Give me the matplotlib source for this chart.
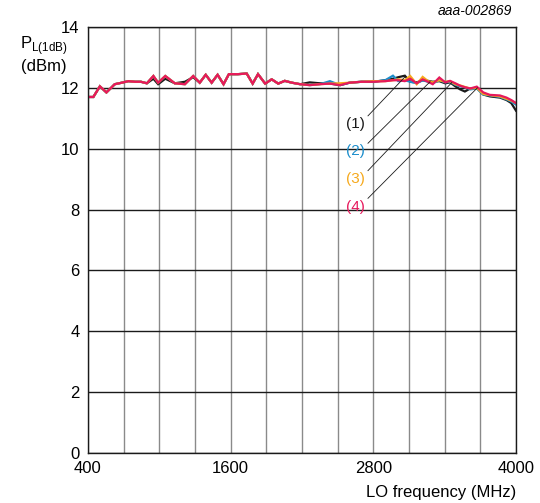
import matplotlib
matplotlib.use("Agg")
import matplotlib.pyplot as plt

plt.rcParams["font.family"] = ["Liberation Sans", "DejaVu Sans"]

# LO frequency (MHz)
freq = [400, 445, 500, 555, 625, 685, 740, 795, 845, 895, 950, 990, 1050, 1130,
        1215, 1285, 1340, 1390, 1440, 1490, 1540, 1585, 1660, 1735, 1785, 1830,
        1890, 1945, 2000, 2055, 2115, 2185, 2265, 2350, 2435, 2520,
        2600, 2700, 2800, 2900, 2965, 3010, 3065, 3110, 3165, 3215, 3260, 3300,
        3355, 3405, 3445, 3490, 3530, 3570, 3615, 3670, 3725, 3780, 3865, 3920,
        3960, 4000]

# PL(1dB) (dBm), curves (1)..(4)
pl_1 = [11.7, 11.7, 12.05, 11.85, 12.12, 12.17, 12.22, 12.2, 12.2, 12.15, 12.3, 12.12,
        12.3, 12.15, 12.2, 12.35, 12.17, 12.43, 12.17, 12.43, 12.12, 12.45, 12.45, 12.47,
        12.14, 12.45, 12.14, 12.28, 12.14, 12.23, 12.17, 12.12, 12.18, 12.15, 12.14, 12.09,
        12.17, 12.2, 12.2, 12.25, 12.3, 12.35, 12.4, 12.2, 12.18, 12.25, 12.23, 12.2,
        12.22, 12.15, 12.18, 12.05, 11.95, 11.88, 11.98, 12.0, 11.78, 11.72, 11.68, 11.6,
        11.5, 11.25]
pl_2 = [11.7, 11.7, 12.05, 11.85, 12.12, 12.17, 12.22, 12.2, 12.2, 12.15, 12.39, 12.17,
        12.39, 12.15, 12.12, 12.39, 12.17, 12.43, 12.17, 12.43, 12.12, 12.45, 12.45, 12.47,
        12.14, 12.45, 12.14, 12.28, 12.14, 12.23, 12.17, 12.12, 12.09, 12.12, 12.22, 12.09,
        12.17, 12.2, 12.2, 12.25, 12.4, 12.22, 12.25, 12.2, 12.15, 12.25, 12.2, 12.15,
        12.25, 12.18, 12.2, 12.1, 12.05, 12.02, 11.95, 11.98, 11.78, 11.75, 11.7, 11.62,
        11.55, 11.45]
pl_3 = [11.7, 11.7, 12.05, 11.85, 12.12, 12.17, 12.22, 12.2, 12.2, 12.15, 12.39, 12.17,
        12.39, 12.15, 12.12, 12.39, 12.17, 12.43, 12.17, 12.43, 12.12, 12.45, 12.45, 12.47,
        12.14, 12.45, 12.14, 12.28, 12.14, 12.23, 12.17, 12.12, 12.09, 12.12, 12.14, 12.15,
        12.17, 12.2, 12.22, 12.22, 12.25, 12.28, 12.25, 12.39, 12.12, 12.36, 12.22, 12.18,
        12.25, 12.2, 12.22, 12.12, 12.08, 12.03, 11.98, 12.0, 11.8, 11.76, 11.72, 11.64,
        11.58, 11.5]
pl_4 = [11.7, 11.7, 12.05, 11.85, 12.12, 12.17, 12.22, 12.2, 12.2, 12.15, 12.39, 12.17,
        12.39, 12.15, 12.12, 12.39, 12.17, 12.43, 12.17, 12.43, 12.12, 12.45, 12.45, 12.47,
        12.14, 12.45, 12.14, 12.28, 12.14, 12.23, 12.17, 12.12, 12.09, 12.12, 12.14, 12.09,
        12.17, 12.2, 12.2, 12.22, 12.25, 12.25, 12.22, 12.3, 12.15, 12.28, 12.2, 12.12,
        12.34, 12.18, 12.23, 12.15, 12.07, 12.02, 11.98, 12.04, 11.85, 11.77, 11.75, 11.68,
        11.6, 11.5]

labels = ["(1)", "(2)", "(3)", "(4)"]
colors = ["#1a1a1a", "#1b8dcb", "#f6a91c", "#e6195c"]
# label anchor (dBm) and leader line from label to curve
label_y = [10.82, 9.92, 9.02, 8.1]
line_start_y = [11.08, 10.18, 9.28, 8.37]
line_end = [(3066, 12.36), (3277, 12.2), (3459, 12.17), (3675, 12.0)]

fig = plt.figure(figsize=(5.4, 5.03), dpi=100)
ax = fig.add_axes([88 / 540, 50 / 503, 428 / 540, 426 / 503])

for y, c in zip([pl_1, pl_2, pl_3, pl_4], colors):
    ax.plot(freq, y, color=c, lw=1.6, solid_joinstyle="miter")

for lab, c, ly, sy, (ex, ey) in zip(labels, colors, label_y, line_start_y, line_end):
    ax.plot([2755, ex], [sy, ey], color="#1a1a1a", lw=0.6)
    ax.text(2730, ly, lab, color=c, fontsize=11, ha="right", va="center")

ax.set_xlim(400, 4000)
ax.set_ylim(0, 14)
ax.set_xticks(range(400, 4001, 300))
ax.set_xticklabels([str(v) if v in (400, 1600, 2800, 4000) else "" for v in range(400, 4001, 300)])
ax.set_yticks(range(0, 15, 2))
ax.tick_params(length=0, labelsize=12, pad=6)
ax.grid(axis="x", color="#8a8a8a", lw=1.0)
ax.grid(axis="y", color="#1a1a1a", lw=1.0)
for s in ax.spines.values():
    s.set_color("#1a1a1a")
    s.set_linewidth(1.0)

fig.text(44 / 540, 1 - 46 / 503, r"P$_{\mathregular{L(1dB)}}$", fontsize=12, ha="center", va="center")
fig.text(44 / 540, 1 - 66 / 503, "(dBm)", fontsize=12, ha="center", va="center")
fig.text(516 / 540, 1 - 493 / 503, "LO frequency (MHz)", fontsize=12, ha="right", va="center")
fig.text(512 / 540, 1 - 11 / 503, "aaa-002869", fontsize=10, style="italic", ha="right", va="center")

fig.savefig("out.png", dpi=100)
